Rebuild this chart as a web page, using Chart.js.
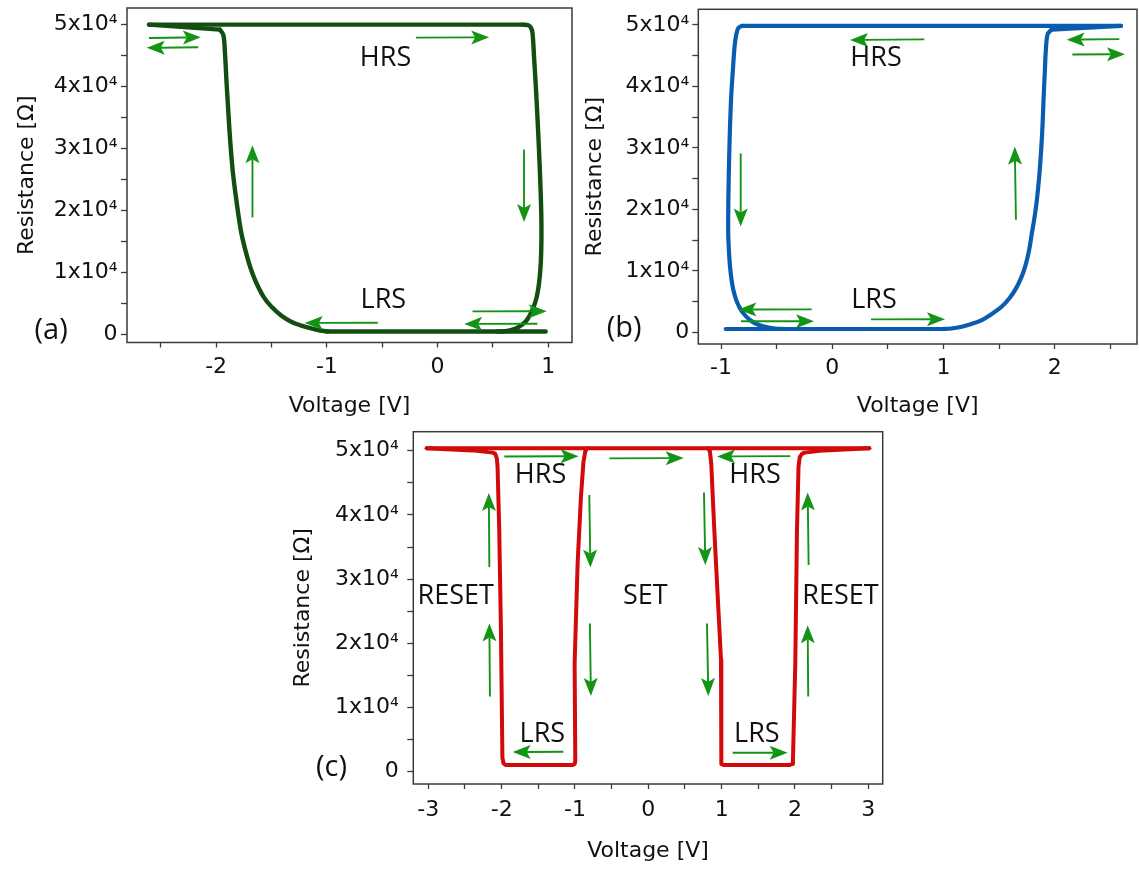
<!DOCTYPE html>
<html>
<head>
<meta charset="utf-8">
<script src="https://cdn.jsdelivr.net/npm/chart.js@4.4.1/dist/chart.umd.min.js"></script>
<style>
  html, body { margin: 0; padding: 0; background: #fff; width: 1139px; height: 869px; overflow: hidden; }
  canvas { position: absolute; }
</style>
</head>
<body>
<canvas id="ca" width="580" height="425" style="left:0px;top:0px"></canvas>
<canvas id="cb" width="564" height="425" style="left:575px;top:0px"></canvas>
<canvas id="cc" width="620" height="444" style="left:280px;top:425px"></canvas>
<script>
// ---------------- DATA ----------------
// Y ticks (shared by all panels)
const yTickValues = [0, 5000, 10000, 15000, 20000, 25000, 30000, 35000, 40000, 45000, 50000];
const yTickLabels = ['0', '', '1x10⁴', '', '2x10⁴', '', '3x10⁴', '', '4x10⁴', '', '5x10⁴'];

// Panel (a) – curve pieces: [points, smooth?]
const xTicksA = [-2.5, -2, -1.5, -1, -0.5, 0, 0.5, 1];
const xLabelsA = ['', '-2', '', '-1', '', '0', '', '1'];
const aBottom = [[0.976, 450], [-0.992, 450]];
const aLeft = [
  [-0.992, 450], [-1.06, 620], [-1.142, 950], [-1.23, 1400], [-1.322, 2040], [-1.41, 3000],
  [-1.502, 4470], [-1.57, 6000], [-1.622, 7700], [-1.672, 9800], [-1.712, 12000], [-1.772, 16300],
  [-1.817, 21600], [-1.848, 26000], [-1.872, 31000], [-1.892, 36500], [-1.907, 41000],
  [-1.92, 45300], [-1.935, 48300], [-1.967, 49150]
];
const aFlare = [[-1.967, 49150], [-2.606, 49950]];
const aTop = [[-2.606, 49950], [0.766, 49950]];
const aRight = [
  [0.766, 49950], [0.82, 49850], [0.845, 49400], [0.858, 48500], [0.872, 44500], [0.886, 40400],
  [0.902, 35000], [0.916, 29700], [0.93, 23500], [0.937, 18950], [0.938, 15500], [0.932, 11500],
  [0.916, 8200], [0.895, 6000], [0.871, 4600], [0.84, 3300], [0.796, 2060], [0.73, 1150],
  [0.661, 660], [0.6, 500], [0.54, 450]
];
const arrowsA = [
  [-2.606, 47800, -2.138, 47900], [-2.162, 46300, -2.627, 46200], [-0.195, 47850, 0.466, 47900],
  [-1.672, 18850, -1.672, 30500], [0.781, 29800, 0.781, 18100], [-0.54, 1870, -1.2, 1830],
  [0.315, 3700, 0.986, 3720], [0.901, 1710, 0.24, 1680]
];
const textsA = [['HRS', -0.47, 44800, 27], ['LRS', -0.49, 5850, 27], ['(a)', -3.49, 900, 29]];

// Panel (b)
const xTicksB = [-1, -0.5, 0, 0.5, 1, 1.5, 2, 2.5];
const xLabelsB = ['-1', '', '0', '', '1', '', '2', ''];
const bBottom = [[-0.958, 540], [0.983, 540]];
const bRight = [
  [0.983, 540], [1.07, 620], [1.163, 900], [1.25, 1350], [1.343, 2000], [1.43, 2950],
  [1.523, 4200], [1.59, 5500], [1.643, 6900], [1.693, 8700], [1.733, 10700], [1.768, 13300],
  [1.793, 16100], [1.818, 18800], [1.838, 21500], [1.86, 25500], [1.877, 29700], [1.89, 34000],
  [1.898, 37800], [1.91, 42500], [1.919, 45900], [1.935, 48500], [1.97, 49250]
];
const bFlare = [[1.97, 49250], [2.594, 49840]];
const bTop = [[2.594, 49840], [-0.814, 49840]];
const bLeft = [
  [-0.814, 49840], [-0.845, 49500], [-0.862, 48500], [-0.878, 46500], [-0.892, 43000],
  [-0.91, 37800], [-0.925, 29700], [-0.934, 21500], [-0.935, 16100], [-0.928, 13000],
  [-0.919, 10700], [-0.905, 8500], [-0.889, 6900], [-0.862, 5200], [-0.829, 3900],
  [-0.79, 2900], [-0.74, 2000], [-0.68, 1350], [-0.605, 900], [-0.515, 600], [-0.43, 540]
];
const arrowsB = [
  [0.827, 47650, 0.159, 47550], [2.579, 47700, 2.106, 47600], [2.157, 45200, 2.63, 45250],
  [-0.823, 29100, -0.823, 17200], [1.65, 18300, 1.64, 30200], [-0.185, 3740, -0.844, 3700],
  [-0.82, 1790, -0.164, 1810], [0.348, 2100, 1.013, 2120]
];
const textsB = [['HRS', 0.393, 44900, 27], ['LRS', 0.374, 5580, 27], ['(b)', -1.87, 900, 29]];

// Panel (c)
const xTicksC = [-3, -2.5, -2, -1.5, -1, -0.5, 0, 0.5, 1, 1.5, 2, 2.5, 3];
const xLabelsC = ['-3', '', '-2', '', '-1', '', '0', '', '1', '', '2', '', '3'];
const cTop = [[-3.023, 50370], [3.014, 50370]];
const cLeft = [
  [-3.023, 50370], [-2.4, 50050], [-2.123, 49700], [-2.087, 49500], [-2.066, 48800], [-2.056, 47500],
  [-2.033, 37600], [-2.01, 22100], [-1.99, 2200], [-1.975, 1300], [-1.942, 1040], [-1.032, 1040],
  [-1.005, 1200], [-0.996, 1700], [-1.005, 16900], [-0.964, 32500], [-0.919, 42800],
  [-0.885, 48200], [-0.86, 49900], [-0.835, 50370]
];
const cRight = [
  [0.815, 50370], [0.84, 49900], [0.858, 48000], [0.9, 37600], [0.946, 27300], [0.991, 17400],
  [0.991, 1700], [1.0, 1200], [1.036, 1040], [1.923, 1040], [1.96, 1200], [1.972, 1800],
  [2.004, 16900], [2.027, 37600], [2.048, 47500], [2.065, 49000], [2.095, 49500], [2.13, 49700],
  [2.4, 50050], [3.014, 50370]
];
const arrowsC = [
  [-1.964, 49100, -0.95, 49150], [-0.532, 48800, 0.482, 48850], [1.936, 49150, 0.937, 49100],
  [-2.168, 31900, -2.175, 43400], [-2.16, 11700, -2.168, 23100],
  [-0.805, 43100, -0.79, 31800], [-0.797, 23100, -0.783, 11800],
  [0.759, 43500, 0.777, 32200], [0.8, 23100, 0.818, 11800],
  [2.186, 32200, 2.173, 43500], [2.18, 11700, 2.173, 22800],
  [-1.159, 3100, -1.85, 3050], [1.15, 2960, 1.9, 2960]
];
const textsC = [
  ['HRS', -1.47, 46400, 27], ['HRS', 1.455, 46400, 27], ['RESET', -2.627, 27700, 27],
  ['SET', -0.04, 27700, 27], ['RESET', 2.62, 27700, 27], ['LRS', -1.445, 6100, 27],
  ['LRS', 1.48, 6100, 27], ['(c)', -4.32, 1000, 29]
];

// ---------------- RENDERING ----------------
const TICK_FONT = { family: 'DejaVu Sans', size: 22 };
const TITLE_FONT = { family: 'DejaVu Sans', size: 22 };
const ARROW_COLOR = '#149414';
const FRAME_COLOR = '#3a3a3a';

const framePlugin = {
  id: 'frame',
  afterDraw(chart) {
    const a = chart.chartArea, ctx = chart.ctx;
    ctx.save();
    ctx.strokeStyle = FRAME_COLOR;
    ctx.lineWidth = 1.5;
    ctx.strokeRect(a.left, a.top, a.right - a.left, a.bottom - a.top);
    ctx.restore();
  }
};

function drawArrow(ctx, x0, y0, x1, y1, L, W) {
  const dx = x1 - x0, dy = y1 - y0;
  const len = Math.hypot(dx, dy);
  const ux = dx / len, uy = dy / len;
  const px = -uy, py = ux;
  const notch = L * 0.78;
  ctx.beginPath();
  ctx.moveTo(x0, y0);
  ctx.lineTo(x1 - ux * notch, y1 - uy * notch);
  ctx.stroke();
  ctx.beginPath();
  ctx.moveTo(x1, y1);
  ctx.lineTo(x1 - ux * L + px * W, y1 - uy * L + py * W);
  ctx.lineTo(x1 - ux * notch, y1 - uy * notch);
  ctx.lineTo(x1 - ux * L - px * W, y1 - uy * L - py * W);
  ctx.closePath();
  ctx.fill();
}

function annotPlugin(arrows, texts) {
  return {
    id: 'annot',
    afterDatasetsDraw(chart) {
      const ctx = chart.ctx, xs = chart.scales.x, ys = chart.scales.y;
      ctx.save();
      ctx.strokeStyle = ARROW_COLOR;
      ctx.fillStyle = ARROW_COLOR;
      ctx.lineWidth = 1.9;
      arrows.forEach(([xa, ya, xb, yb]) => {
        drawArrow(ctx, xs.getPixelForValue(xa), ys.getPixelForValue(ya),
                  xs.getPixelForValue(xb), ys.getPixelForValue(yb), 18, 7);
      });
      ctx.restore();
    },
    afterDraw(chart) {
      const ctx = chart.ctx, xs = chart.scales.x, ys = chart.scales.y;
      ctx.save();
      ctx.fillStyle = '#111';
      ctx.textAlign = 'center';
      ctx.textBaseline = 'alphabetic';
      texts.forEach(([t, x, y, size]) => {
        ctx.font = size + 'px "Open Sans"';
        ctx.fillText(t, xs.getPixelForValue(x), ys.getPixelForValue(y) + 0.357 * size);
      });
      ctx.restore();
    }
  };
}

function makeChart(id, p) {
  const datasets = p.curves.map(([c, smooth]) => ({
    data: c.map(([x, y]) => ({ x, y })),
    showLine: true,
    borderColor: p.color,
    borderWidth: p.lw,
    pointRadius: 0,
    tension: smooth ? 0.35 : 0,
    fill: false,
    borderJoinStyle: 'round',
    borderCapStyle: 'round'
  }));
  return new Chart(document.getElementById(id), {
    type: 'scatter',
    data: { datasets },
    options: {
      responsive: false,
      animation: false,
      events: [],
      layout: { padding: p.pad },
      plugins: { legend: { display: false }, tooltip: { enabled: false } },
      scales: {
        x: {
          type: 'linear', min: p.xmin, max: p.xmax,
          afterBuildTicks: s => { s.ticks = p.xTicks.map(v => ({ value: v })); },
          afterFit: s => { s.height = p.xh; s.paddingLeft = 0; s.paddingRight = 0; },
          ticks: {
            autoSkip: false, maxRotation: 0, minRotation: 0, padding: p.xtp,
            color: '#111', font: TICK_FONT,
            callback: v => { const i = p.xTicks.indexOf(v); return i >= 0 ? p.xLabels[i] : ''; }
          },
          grid: { drawOnChartArea: false, drawTicks: true, tickLength: 5, tickColor: FRAME_COLOR, tickWidth: 1.3 },
          border: { display: false },
          title: { display: true, text: 'Voltage [V]', color: '#111', font: TITLE_FONT, padding: { top: 0, bottom: p.xtb } }
        },
        y: {
          type: 'linear', min: p.ymin, max: p.ymax,
          afterBuildTicks: s => { s.ticks = yTickValues.map(v => ({ value: v })); },
          afterFit: s => { s.width = p.yw; s.paddingTop = 0; s.paddingBottom = 0; },
          ticks: {
            autoSkip: false, padding: p.ytp, color: '#111', font: TICK_FONT,
            callback: v => { const i = yTickValues.indexOf(v); return i >= 0 ? yTickLabels[i] : ''; }
          },
          grid: { drawOnChartArea: false, drawTicks: true, tickLength: 6, tickColor: FRAME_COLOR, tickWidth: 1.3 },
          border: { display: false },
          title: { display: true, text: 'Resistance [Ω]', color: '#111', font: TITLE_FONT, padding: { top: p.ytt, bottom: 0 } }
        }
      }
    },
    plugins: [framePlugin, annotPlugin(p.arrows, p.texts)]
  });
}

makeChart('ca', {
  curves: [[aBottom, false], [aLeft, true], [aFlare, false], [aTop, false], [aRight, true]],
  color: '#124d12', lw: 4.4,
  xmin: -2.805, xmax: 1.214, ymin: -1320, ymax: 52630,
  xTicks: xTicksA, xLabels: xLabelsA,
  pad: { left: 0, right: 8, top: 8, bottom: 0 }, xh: 82.5, yw: 127,
  xtp: 7, xtb: 5.8, ytp: 3.5, ytt: 14.5,
  arrows: arrowsA, texts: textsA
});

makeChart('cb', {
  curves: [[bBottom, false], [bRight, true], [bFlare, false], [bTop, false], [bLeft, true]],
  color: '#0a5cb0', lw: 4.2,
  xmin: -1.204, xmax: 2.738, ymin: -1900, ymax: 52550,
  xTicks: xTicksB, xLabels: xLabelsB,
  pad: { left: 0, right: 2, top: 9.3, bottom: 0 }, xh: 81, yw: 123.3,
  xtp: 6, xtb: 5.8, ytp: 3, ytt: 7,
  arrows: arrowsB, texts: textsB
});

makeChart('cc', {
  curves: [[cTop, false], [cLeft, false], [cRight, false]],
  color: '#d20a0a', lw: 4,
  xmin: -3.205, xmax: 3.196, ymin: -1916, ymax: 52960,
  xTicks: xTicksC, xLabels: xLabelsC,
  pad: { left: 0, right: 17.3, top: 6.7, bottom: 0 }, xh: 85, yw: 133.3,
  xtp: 8, xtb: 4.1, ytp: 8.5, ytt: 9.8,
  arrows: arrowsC, texts: textsC
});
</script>
</body>
</html>
